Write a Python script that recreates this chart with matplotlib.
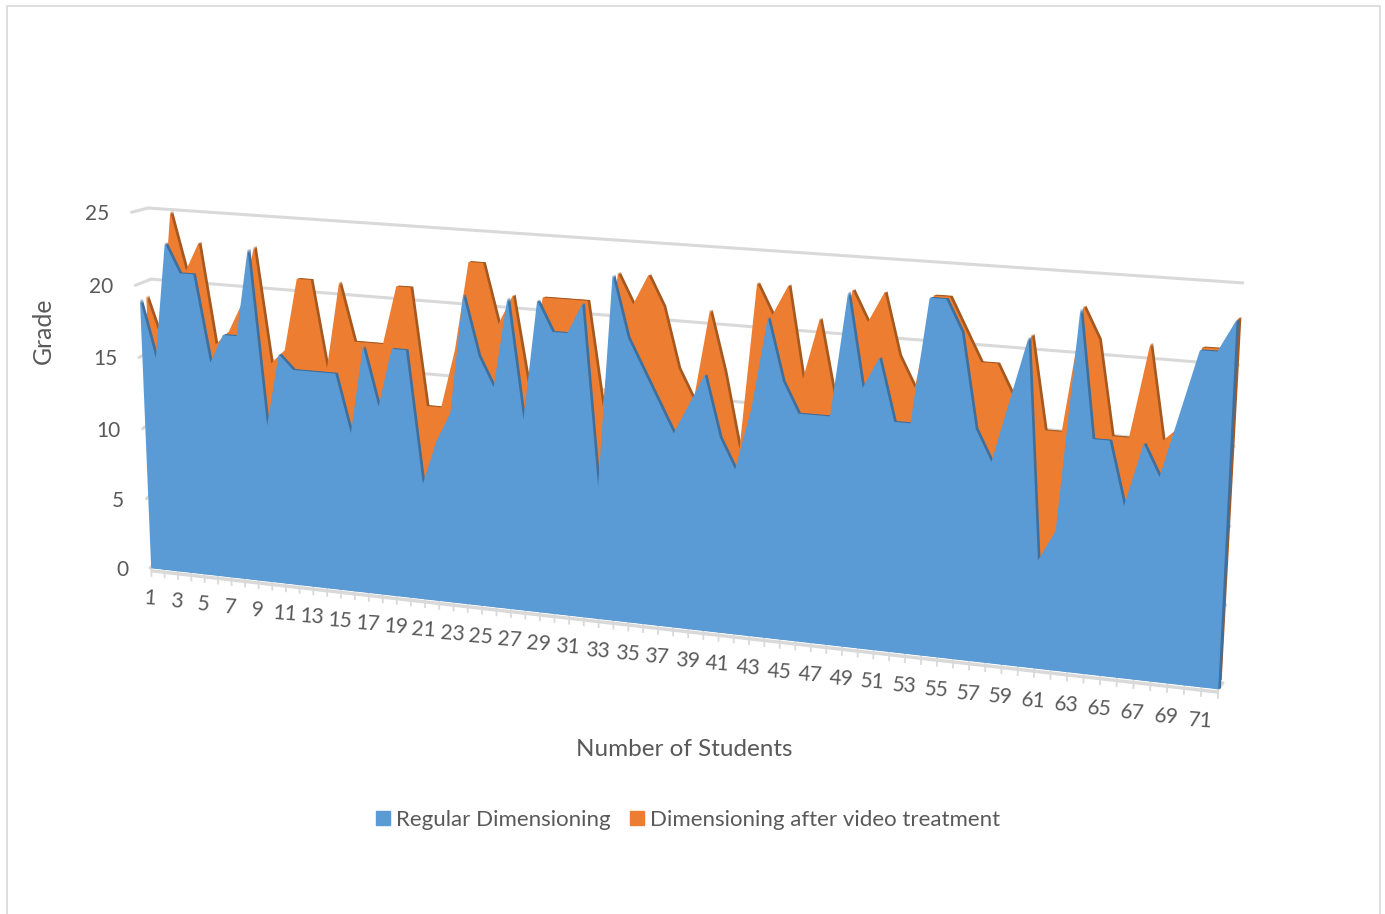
import numpy as np
import matplotlib
matplotlib.use('Agg')
import matplotlib.pyplot as plt
import matplotlib.transforms as mtransforms
from matplotlib.patches import Patch

plt.rcParams['font.family'] = ['Lato', 'DejaVu Sans']

# grades
students = list(range(1, 73))
regular = [19, 15, 23, 21, 21, 15, 17, 17, 23, 11, 16, 15, 15, 15, 15, 11, 17, 13,
           17, 17, 8, 11, 13, 21, 17, 15, 21, 13, 21, 19, 19, 21, 9, 23, 19, 17,
           15, 13, 15, 17, 13, 11, 15, 21, 17, 15, 15, 15, 23, 17, 19, 15, 15, 23,
           23, 21, 15, 13, 17, 21, 7, 9, 23, 15, 15, 11, 15, 13, 17, 21, 21, 23]
after_video = [19, 16, 25, 21, 23, 16, 17, 19, 23, 15, 16, 21, 21, 15, 21, 17, 17, 17,
               21, 21, 13, 13, 17, 23, 23, 19, 21, 15, 21, 21, 21, 21, 14, 23, 21, 23,
               21, 17, 15, 21, 17, 12, 23, 21, 23, 17, 21, 16, 23, 21, 23, 19, 17, 23,
               23, 21, 19, 19, 17, 21, 15, 15, 23, 21, 15, 15, 21, 15, 16, 21, 21, 23]
grade_ticks = [0, 5, 10, 15, 20, 25]
student_ticks = students[::2]

BLUE, BLUE_DARK = '#5B9BD5', '#3F6F9C'
ORANGE, ORANGE_DARK = '#ED7D31', '#A5591F'
GREY = '#D9D9D9'
TEXT = '#595959'

# where (1,0), (72,0), (1,25), (72,25) land on the canvas, one quad per depth row
FRONT_PLANE = [(151.2, 568.3), (1218.3, 689.3), (136.3, 211.8), (1238.3, 286.6)]
REAR_PLANE = [(156.5, 561.3), (1219.1, 680.9), (143.0, 209.7), (1240.6, 284.8)]
BACK_WALL = [(163, 555), (1223, 683), (148, 208), (1244, 283)]
SIDE_FRONT = [(150, 568), (1218.3, 689.3), (131.5, 212.3), (1238.3, 286.6)]


class Plane(mtransforms.Transform):
    """(student, grade) -> canvas position, homography from four corners."""
    input_dims = output_dims = 2

    def __init__(self, quad):
        super().__init__()
        src = [(1, 0), (72, 0), (1, 25), (72, 25)]
        rows, rhs = [], []
        for (s, g), (x, y) in zip(src, quad):
            rows.append([s, g, 1, 0, 0, 0, -s * x, -g * x])
            rows.append([0, 0, 0, s, g, 1, -s * y, -g * y])
            rhs += [x, y]
        self.h = np.append(np.linalg.solve(np.array(rows, float), np.array(rhs, float)), 1).reshape(3, 3)

    def transform_non_affine(self, values):
        v = np.column_stack([values, np.ones(len(values))]) @ self.h.T
        return v[:, :2] / v[:, 2:]


fig = plt.figure(figsize=(13.85, 9.14), dpi=100)
ax = fig.add_axes([0, 0, 1, 1])
ax.set_xlim(0, 1385)
ax.set_ylim(914, 0)
ax.set_autoscale_on(False)
ax.axis('off')

front_plane, rear_plane = Plane(FRONT_PLANE), Plane(REAR_PLANE)
back_plane, side_plane = Plane(BACK_WALL), Plane(SIDE_FRONT)
front = front_plane + ax.transData
rear = rear_plane + ax.transData
back = back_plane + ax.transData
side = side_plane + ax.transData


def link(p, q):
    ax.plot([p[0], q[0]], [p[1], q[1]], color=GREY, lw=2.2, zorder=0.5, solid_capstyle='round')


# picture frame, no line along the bottom
ax.plot([7, 7, 1380, 1380], [914, 5.5, 5.5, 914], color='#DEDEDE', lw=1.4, zorder=0.5)

# back wall gridlines and their run along the side wall
for g in grade_ticks:
    ax.plot([1, 72], [g, g], color=GREY, lw=2.2, transform=back, zorder=0.5, solid_capstyle='butt')
    link(back_plane.transform((1, g)), side_plane.transform((1, g)))

# floor edge at the open end
link(front_plane.transform((72, 0)), back_plane.transform((72, 0)))

# student axis
ax.plot([1, 72], [-0.18, -0.18], color=GREY, lw=2.4, transform=front, zorder=0.5, solid_capstyle='butt')
for s in students:
    ax.plot([s, s], [0, -0.55], color=GREY, lw=1.3, transform=front, zorder=0.5)

# areas: rear series first, dark copies swept behind each for the slab edge
xs = [1] + students + [72]
for values, plane, dark, face in ((after_video, rear, ORANGE_DARK, ORANGE),
                                  (regular, front, BLUE_DARK, BLUE)):
    for k in (2.6, 1.7, 0.9):
        ax.fill(xs, [0] + values + [0], color=dark, lw=0,
                transform=plane + mtransforms.Affine2D().translate(k, k / 3))
    ax.fill(xs, [0] + values + [0], color=face, lw=0, transform=plane)

# tick labels, they sit a little further off the axis towards the near end
for s in student_ticks:
    ax.annotate(str(s), (s, 0), xycoords=front, xytext=(-1, -(30 + 3 * (s - 1) / 70)),
                textcoords='offset pixels', ha='center', va='center', fontsize=15, color=TEXT, rotation=-4)
for g in grade_ticks:
    ax.annotate(str(g), (1, g), xycoords=side, xytext=(-22, -2), textcoords='offset pixels',
                ha='right', va='center', fontsize=15, color=TEXT)

ax.text(43, 330.5, 'Grade', rotation=90, ha='center', va='center', fontsize=17.8, color=TEXT)
ax.text(684, 750, 'Number of Students', ha='center', va='center', fontsize=17.5, color=TEXT)

handles = [Patch(color=BLUE, label='Regular Dimensioning'),
           Patch(color=ORANGE, label='Dimensioning after video treatment')]
ax.legend(handles=handles, loc='center', bbox_to_anchor=(688, 820), bbox_transform=ax.transData,
          ncol=2, frameon=False, fontsize=16, labelcolor=TEXT, handlelength=0.62, handleheight=0.62,
          handletextpad=0.25, columnspacing=0.9, borderpad=0)

fig.savefig('out.png', dpi=100)
